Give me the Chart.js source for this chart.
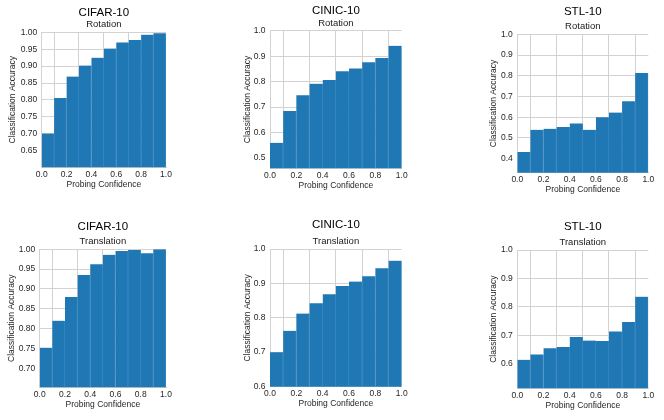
<!DOCTYPE html>
<html lang="en">
<head>
    <meta charset="UTF-8">
    <title>Probing Confidence vs Classification Accuracy</title>
    <script src="https://cdn.jsdelivr.net/npm/chart.js"></script>
    <style>
        body { margin: 0; background: #fff; }
        #page { position: relative; width: 664px; height: 420px; overflow: hidden; }
        .panel { position: absolute; }
    </style>
</head>
<body>
    <div id="page"></div>
    <script>
        // bin centers of the probing confidence histogram
        const binCenters = [0.05, 0.15, 0.25, 0.35, 0.45, 0.55, 0.65, 0.75, 0.85, 0.95];
        const xTicks = [0.0, 0.2, 0.4, 0.6, 0.8, 1.0];

        const datasetNames = ['CIFAR-10', 'CINIC-10', 'STL-10'];
        const transformNames = ['Rotation', 'Translation'];

        const cifarRotation = [0.701, 0.806, 0.869, 0.902, 0.925, 0.952, 0.970, 0.977, 0.993, 0.997];
        const cinicRotation = [0.560, 0.685, 0.747, 0.792, 0.807, 0.841, 0.852, 0.876, 0.893, 0.941];
        const stlRotation = [0.432, 0.539, 0.544, 0.552, 0.570, 0.539, 0.600, 0.622, 0.677, 0.813];
        const cifarTranslation = [0.752, 0.820, 0.880, 0.935, 0.962, 0.986, 0.996, 0.998, 0.990, 1.000];
        const cinicTranslation = [0.699, 0.762, 0.812, 0.842, 0.868, 0.892, 0.905, 0.921, 0.944, 0.966];
        const stlTranslation = [0.614, 0.633, 0.655, 0.659, 0.694, 0.682, 0.680, 0.714, 0.747, 0.836];

        const yStepByDataset = [0.05, 0.1, 0.1];
        const yDecimalsByDataset = [2, 1, 1];

        const panels = [
            { name: 0, transform: 0, values: cifarRotation },
            { name: 1, transform: 0, values: cinicRotation },
            { name: 2, transform: 0, values: stlRotation },
            { name: 0, transform: 1, values: cifarTranslation },
            { name: 1, transform: 1, values: cinicTranslation },
            { name: 2, transform: 1, values: stlTranslation }
        ];

        // plot area rectangles on the page (left, right, top, bottom), y-label center, title gap
        const boxes = [
            { l: 41.7, r: 166, t: 32.3, b: 167.3, labelX: 14, gap: -1 },
            { l: 270, r: 401.7, t: 30.7, b: 168.3, labelX: 248.3, gap: -0.6 },
            { l: 517.3, r: 648.3, t: 34.3, b: 172.7, labelX: 495, gap: 2.5 },
            { l: 39.7, r: 166, t: 249.3, b: 387.3, labelX: 12.7, gap: 2.2 },
            { l: 270, r: 401.7, t: 249, b: 386.7, labelX: 248.3, gap: 3.4 },
            { l: 517.3, r: 648.3, t: 250, b: 388.3, labelX: 495, gap: 3 }
        ];

        const FONT = "'Liberation Sans', Arial, sans-serif";
        const TICK_SIZE = 8.5;
        const TITLE_SIZE = 11.5;
        const SUB_SIZE = 9.5;
        const SUB_PAD = 2;
        const X_AXIS_H = 22;
        const RIGHT_PAD = 10;
        const GRID = '#d2d2d2';

        const page = document.getElementById('page');

        panels.forEach((p, i) => {
            const box = boxes[i];
            const titleH = TITLE_SIZE * 1.2 + box.gap + SUB_SIZE * 1.2 + SUB_PAD;
            const rawLeft = box.labelX - TICK_SIZE * 0.6;
            const rawTop = box.t - titleH;
            const left = Math.floor(rawLeft);
            const top = Math.floor(rawTop);
            const yAxisW = box.l - left;
            const width = Math.ceil(yAxisW + (box.r - box.l) + RIGHT_PAD);
            const height = Math.ceil((box.b - top) + X_AXIS_H);
            const padTop = rawTop - top;
            const padRight = width - yAxisW - (box.r - box.l);
            const padBottom = height - (box.b - top) - X_AXIS_H;

            const div = document.createElement('div');
            div.className = 'panel';
            div.style.left = left + 'px';
            div.style.top = top + 'px';
            div.style.width = width + 'px';
            div.style.height = height + 'px';
            const canvas = document.createElement('canvas');
            div.appendChild(canvas);
            page.appendChild(div);

            const decimals = yDecimalsByDataset[p.name];
            const yMin = Math.min(...p.values) - 0.1;

            new Chart(canvas, {
                type: 'bar',
                data: {
                    datasets: [{
                        data: binCenters.map((x, k) => ({ x: x, y: p.values[k] })),
                        backgroundColor: '#1f77b4',
                        borderColor: '#3b8ac2',
                        borderWidth: { left: 0, right: 1, top: 0, bottom: 0 },
                        borderSkipped: false,
                        barPercentage: 1,
                        categoryPercentage: 1
                    }]
                },
                options: {
                    responsive: true,
                    maintainAspectRatio: false,
                    animation: false,
                    layout: { padding: { left: 0, right: padRight, top: padTop, bottom: padBottom } },
                    plugins: {
                        legend: { display: false },
                        tooltip: { enabled: false },
                        title: {
                            display: true,
                            fullSize: false,
                            text: datasetNames[p.name],
                            color: '#000',
                            font: { family: FONT, size: TITLE_SIZE, weight: 'normal' },
                            padding: { top: 0, bottom: box.gap }
                        },
                        subtitle: {
                            display: true,
                            fullSize: false,
                            text: transformNames[p.transform],
                            color: '#1a1a1a',
                            font: { family: FONT, size: SUB_SIZE, weight: 'normal' },
                            padding: { top: 0, bottom: SUB_PAD }
                        }
                    },
                    scales: {
                        x: {
                            type: 'linear',
                            min: 0,
                            max: 1,
                            offset: false,
                            afterBuildTicks: scale => { scale.ticks = xTicks.map(v => ({ value: v })); },
                            afterFit: scale => { scale.height = X_AXIS_H; },
                            ticks: {
                                maxRotation: 0,
                                autoSkip: false,
                                padding: 2.3,
                                color: '#262626',
                                font: { family: FONT, size: TICK_SIZE },
                                callback: v => v.toFixed(1)
                            },
                            grid: { color: GRID, drawTicks: false, lineWidth: 1 },
                            border: { display: true, color: GRID, width: 1 },
                            title: {
                                display: true,
                                text: 'Probing Confidence',
                                color: '#262626',
                                font: { family: FONT, size: TICK_SIZE },
                                padding: 0
                            }
                        },
                        y: {
                            min: yMin,
                            max: 1,
                            afterFit: scale => { scale.width = yAxisW; },
                            ticks: {
                                stepSize: yStepByDataset[p.name],
                                includeBounds: false,
                                autoSkip: false,
                                padding: 4.5,
                                color: '#262626',
                                font: { family: FONT, size: TICK_SIZE },
                                callback: v => v.toFixed(decimals)
                            },
                            grid: { color: GRID, drawTicks: false, lineWidth: 1 },
                            border: { display: true, color: GRID, width: 1 },
                            title: {
                                display: true,
                                text: 'Classification Accuracy',
                                color: '#262626',
                                font: { family: FONT, size: TICK_SIZE },
                                padding: 0
                            }
                        }
                    }
                }
            });
        });
    </script>
</body>
</html>
